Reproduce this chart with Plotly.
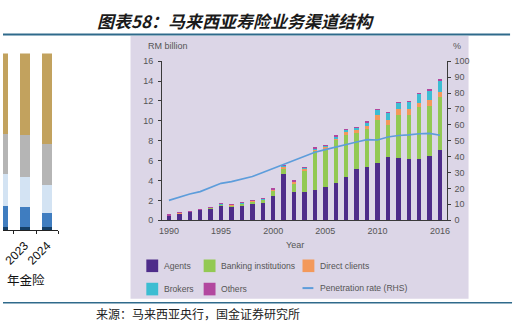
import plotly.graph_objects as go

W, H = 519, 328

# ---------------- data ----------------
years = list(range(1990, 2017))
agents = [0.50, 0.68, 0.86, 1.05, 1.20, 1.45, 1.40, 1.47, 1.62, 1.75, 2.45, 4.70, 2.87, 2.87,
          3.07, 3.38, 3.78, 4.35, 5.20, 5.38, 5.80, 6.32, 6.22, 6.12, 6.20, 6.50, 7.05]
banking = [0.0, 0.0, 0.0, 0.0, 0.02, 0.12, 0.10, 0.20, 0.28, 0.32, 0.50, 0.50, 0.85, 2.05,
           3.90, 3.85, 4.30, 4.25, 3.60, 3.85, 4.30, 3.30, 4.35, 4.45, 5.15, 4.95, 5.40]
direct = [0.0, 0.03, 0.02, 0.03, 0.03, 0.03, 0.04, 0.04, 0.04, 0.04, 0.08, 0.15, 0.12, 0.22,
          0.13, 0.12, 0.17, 0.25, 0.27, 0.25, 0.50, 0.50, 0.60, 0.62, 0.45, 0.65, 0.50]
brokers = [0.0, 0.0, 0.0, 0.0, 0.0, 0.01, 0.01, 0.02, 0.02, 0.03, 0.07, 0.12, 0.08, 0.15,
           0.13, 0.12, 0.20, 0.22, 0.20, 0.35, 0.50, 0.65, 0.65, 0.72, 0.90, 0.95, 1.10]
others = [0.02, 0.02, 0.02, 0.02, 0.02, 0.02, 0.02, 0.02, 0.03, 0.03, 0.03, 0.05, 0.03, 0.04,
          0.05, 0.05, 0.05, 0.05, 0.05, 0.05, 0.05, 0.05, 0.05, 0.05, 0.05, 0.05, 0.05]
penetration = [12.5, 14.5, 16.5, 18.0, 20.5, 23.2, 24.3, 26.0, 27.5, 30.0, 32.5, 35.0, 37.6, 40.4,
               42.8, 44.4, 46.1, 47.9, 49.2, 50.7, 50.5, 52.3, 53.3, 53.7, 54.4, 54.6, 53.5]

left_tick_y = [0, 2, 4, 6, 8, 10, 12, 14, 16]
right_tick_y = [0, 10, 20, 30, 40, 50, 60, 70, 80, 90, 100]
x_ticks = [1990, 1995, 2000, 2005, 2010, 2016]

series_names = ["Agents", "Banking institutions", "Direct clients", "Brokers", "Others"]
series_colors = ["#4e2c8a", "#93c953", "#f3995b", "#3cbdd2", "#b2479f"]
line_name = "Penetration rate (RHS)"
line_color = "#5d9ddb"

# left (cropped) chart
left_cats = ["2022", "2023", "2024"]
left_s1 = [1.6, 1.6, 1.6]
left_s2 = [12.1, 11.5, 8.2]
left_s3 = [18.1, 17.0, 15.4]
left_s4 = [22.5, 23.6, 23.6]
left_s5 = [45.7, 46.3, 51.2]
left_colors = ["#153f66", "#3f7dc0", "#d3e3f3", "#b5b5b5", "#c2a25e"]

title_text = "图表58：马来西亚寿险业务渠道结构"
source_text = "来源：马来西亚央行，国金证券研究所"

# ---------------- helpers ----------------
def px(x):
    return x / W

def py(y):
    return 1 - y / H

fig = go.Figure()

# main chart stacked bars
for name, vals, col in zip(series_names, [agents, banking, direct, brokers, others], series_colors):
    fig.add_trace(go.Bar(x=years, y=vals, name=name, marker=dict(color=col, line=dict(width=0)),
                         width=0.42, xaxis="x", yaxis="y", showlegend=False))

fig.add_trace(go.Scatter(x=years, y=penetration, mode="lines", name=line_name,
                         line=dict(color=line_color, width=1.6), xaxis="x", yaxis="y3",
                         showlegend=False))

# left chart
for vals, col in zip([left_s1, left_s2, left_s3, left_s4, left_s5], left_colors):
    fig.add_trace(go.Bar(x=left_cats, y=vals, marker=dict(color=col, line=dict(width=0)),
                         width=0.47, xaxis="x2", yaxis="y2", showlegend=False))

axis_font = dict(family="Liberation Sans, Arial, sans-serif", size=9, color="#555555")
small_font = dict(family="Liberation Sans, Arial, sans-serif", size=9, color="#555555")
legend_font = dict(family="Liberation Sans, Arial, sans-serif", size=8.6, color="#555555")

fig.update_layout(
    width=W, height=H,
    margin=dict(l=0, r=0, t=0, b=0),
    paper_bgcolor="white",
    plot_bgcolor="rgba(0,0,0,0)",
    barmode="stack",
    showlegend=False,
    xaxis=dict(domain=[px(161), px(449)], range=[1989.35, 2016.65], tickvals=x_ticks,
               showline=True, linecolor="#3a3a3a", linewidth=1, ticks="", showgrid=False,
               zeroline=False, tickfont=axis_font, anchor="y", ticklabelstandoff=2),
    yaxis=dict(domain=[py(222), py(58)], range=[0, 16], tickvals=left_tick_y,
               showline=True, linecolor="#3a3a3a", linewidth=1, ticks="outside", ticklen=3,
               tickcolor="#3a3a3a", showgrid=False, zeroline=False, tickfont=axis_font,
               anchor="x", ticklabelstandoff=3),
    yaxis3=dict(overlaying="y", side="right", range=[0, 100], tickvals=right_tick_y,
                showline=True, linecolor="#3a3a3a", linewidth=1, ticks="outside", ticklen=3,
                tickcolor="#3a3a3a", showgrid=False, zeroline=False, tickfont=axis_font,
                anchor="x", ticklabelstandoff=2),
    xaxis2=dict(domain=[0, px(56)], type="category", categoryarray=left_cats,
                range=[0.022, 2.5], tickson="boundaries", ticks="outside", ticklen=3,
                tickcolor="#222", showline=True, linecolor="#222", linewidth=1,
                showgrid=False, zeroline=False, tickangle=-45, anchor="y2",
                ticklabelstandoff=3,
                tickfont=dict(family="Liberation Sans, Arial, sans-serif", size=12, color="#111")),
    yaxis2=dict(domain=[py(232), py(50)], range=[0, 100], visible=False, anchor="x2"),
)

shapes = [
    # lavender panel
    dict(type="rect", xref="paper", yref="paper", x0=px(129), x1=px(471), y0=py(303), y1=py(32),
         fillcolor="#dcd6e7", line=dict(width=0), layer="below"),
    # top rule
    dict(type="line", xref="paper", yref="paper", x0=0, x1=px(513), y0=py(30.5), y1=py(30.5),
         line=dict(color="#2f6a8b", width=2)),
    # bottom rule
    dict(type="line", xref="paper", yref="paper", x0=0, x1=px(515), y0=py(307), y1=py(307),
         line=dict(color="#2f6a8b", width=1.5)),
]

annotations = [
    dict(text="<b><i>" + title_text + "</i></b>", xref="paper", yref="paper", x=px(236), y=py(16),
         xanchor="center", yanchor="middle", showarrow=False,
         font=dict(family="Noto Sans CJK SC", size=17, color="#1a1a1a")),
    dict(text=source_text, xref="paper", yref="paper", x=px(92), y=py(318), xanchor="left",
         yanchor="middle", showarrow=False,
         font=dict(family="Noto Sans CJK SC", size=12, color="#222222")),
    dict(text="年金险", xref="paper", yref="paper", x=px(2), y=py(283), xanchor="left",
         yanchor="middle", showarrow=False,
         font=dict(family="Noto Sans CJK SC", size=12.5, color="#111111")),
    dict(text="RM billion", xref="paper", yref="paper", x=px(145), y=py(42), xanchor="left",
         yanchor="middle", showarrow=False, font=small_font),
    dict(text="%", xref="paper", yref="paper", x=px(459), y=py(42), xanchor="center",
         yanchor="middle", showarrow=False, font=small_font),
    dict(text="Year", xref="paper", yref="paper", x=px(295), y=py(248), xanchor="center",
         yanchor="middle", showarrow=False, font=small_font),
]

# manual legend
legend_pos = [(145, 269), (203, 269), (303, 269), (145, 293), (203, 293)]
for (lx, ly), name, col in zip(legend_pos, series_names, series_colors):
    shapes.append(dict(type="rect", xref="paper", yref="paper", x0=px(lx), x1=px(lx + 12),
                       y0=py(ly + 6.5), y1=py(ly - 6.5), fillcolor=col, line=dict(width=0)))
    annotations.append(dict(text=name, xref="paper", yref="paper", x=px(lx + 16), y=py(ly),
                            xanchor="left", yanchor="middle", showarrow=False, font=legend_font))
shapes.append(dict(type="line", xref="paper", yref="paper", x0=px(303), x1=px(314),
                   y0=py(292), y1=py(292), line=dict(color=line_color, width=2)))
annotations.append(dict(text=line_name, xref="paper", yref="paper", x=px(319), y=py(292),
                        xanchor="left", yanchor="middle", showarrow=False, font=legend_font))

fig.update_layout(shapes=shapes, annotations=annotations)

fig.write_html("out.html")
